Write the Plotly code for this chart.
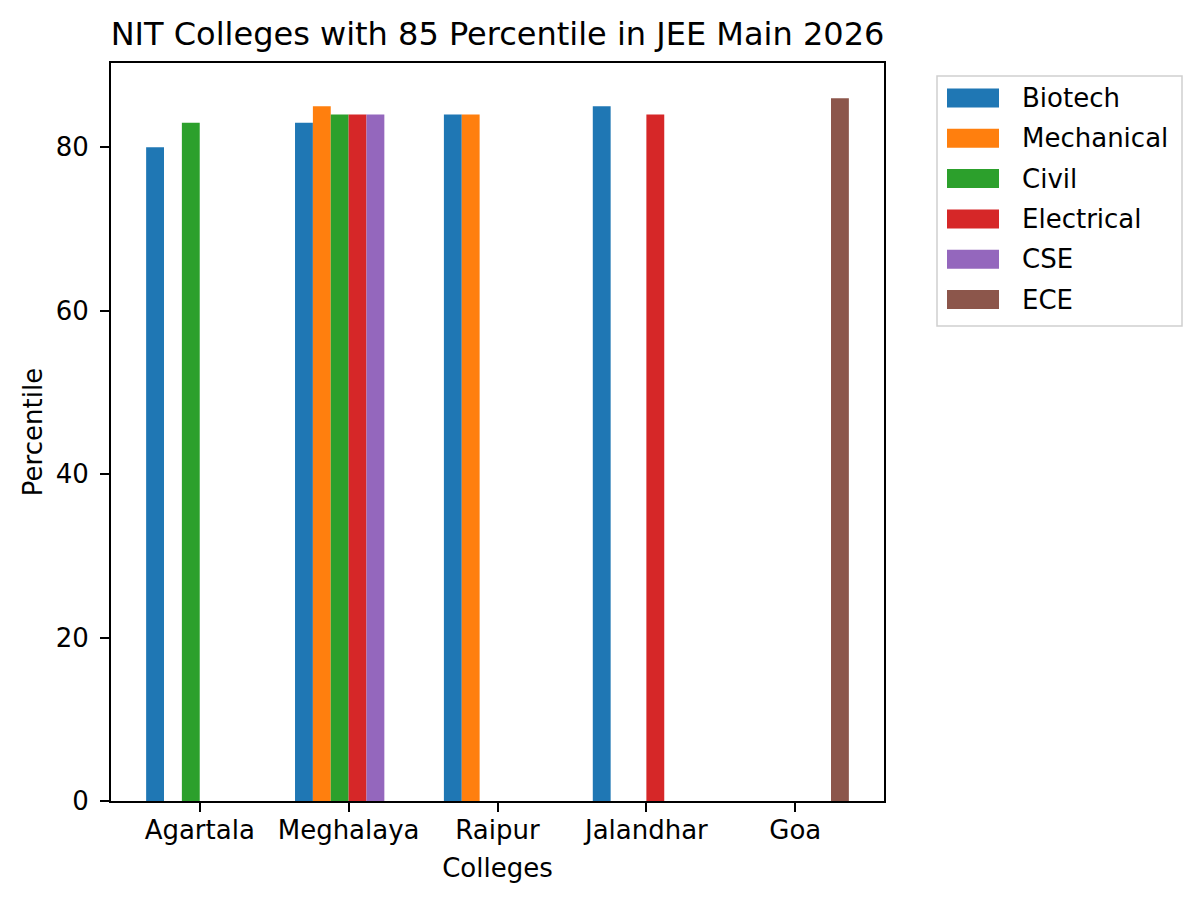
import plotly.graph_objects as go

# data
colleges = ["Agartala", "Meghalaya", "Raipur", "Jalandhar", "Goa"]
branches = ["Biotech", "Mechanical", "Civil", "Electrical", "CSE", "ECE"]
biotech = [80, 83, 84, 85, None]
mechanical = [None, 85, 84, None, None]
civil = [83, 84, None, None, None]
electrical = [None, 84, None, 84, None]
cse = [None, 84, None, None, None]
ece = [None, None, None, None, 86]
colors = ["#1f77b4", "#ff7f0e", "#2ca02c", "#d62728", "#9467bd", "#8c564b"]
y_ticks = [0, 20, 40, 60, 80]

series = [biotech, mechanical, civil, electrical, cse, ece]

FONT = "DejaVu Sans"
W, H = 1200, 902
L, R, T, B = 111, 884, 63, 801  # plot area as seen in the page
OFF = 8  # default body margin of the html page


def px_x(p):
    return (p - L) / (R - L)


def px_y(p):
    return (B - p) / (B - T)


fig = go.Figure()
for name, vals, col in zip(branches, series, colors):
    fig.add_trace(go.Bar(x=colleges, y=vals, name=name, marker_color=col,
                         marker_line_width=0, showlegend=False))

# legend drawn by hand (matplotlib style wide patches)
shapes = [dict(type="rect", xref="paper", yref="paper",
               x0=px_x(937), x1=px_x(1182), y0=px_y(326), y1=px_y(76),
               line=dict(color="#d0d0d0", width=1.5), fillcolor="white")]
annotations = []
for i, (name, col) in enumerate(zip(branches, colors)):
    cy = 98 + 40.3 * i
    shapes.append(dict(type="rect", xref="paper", yref="paper",
                       x0=px_x(947), x1=px_x(999), y0=px_y(cy + 9.5), y1=px_y(cy - 9.5),
                       line=dict(width=0), fillcolor=col))
    annotations.append(dict(text=name, xref="paper", yref="paper", x=px_x(1020), y=px_y(cy),
                            xanchor="left", yanchor="middle", showarrow=False,
                            font=dict(family=FONT, size=26, color="black")))

fig.update_layout(
    width=W, height=H,
    margin=dict(l=L - OFF, r=W - R + OFF, t=T - OFF, b=H - B + OFF, autoexpand=False),
    paper_bgcolor="white", plot_bgcolor="white",
    font=dict(family=FONT, size=26, color="black"),
    barmode="group", bargap=0.28, bargroupgap=0,
    title=dict(text="NIT Colleges with 85 Percentile in JEE Main 2026",
               font=dict(family=FONT, size=32, color="black"),
               x=0.5, xref="paper", xanchor="center",
               y=1, yref="paper", yanchor="bottom", pad=dict(b=18)),
    shapes=shapes, annotations=annotations,
)
fig.update_xaxes(range=[-0.596, 4.596], showline=True, linecolor="black", linewidth=2,
                 mirror=True, ticks="outside", ticklen=9, tickwidth=2, tickcolor="black",
                 showgrid=False, zeroline=False, automargin=False,
                 tickfont=dict(size=26), ticklabelstandoff=-4,
                 title=dict(text="Colleges", font=dict(size=26), standoff=15))
fig.update_yaxes(range=[0, 90.3], tickvals=y_ticks, showline=True, linecolor="black", linewidth=2,
                 mirror=True, ticks="outside", ticklen=9, tickwidth=2, tickcolor="black",
                 showgrid=False, zeroline=False, automargin=False,
                 tickfont=dict(size=26), ticklabelstandoff=6,
                 title=dict(text="Percentile", font=dict(size=26), standoff=6))

fig.write_html("out.html")
